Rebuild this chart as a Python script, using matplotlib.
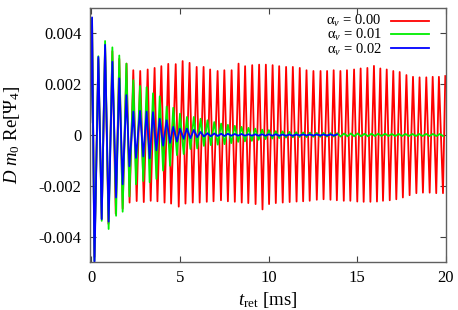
import numpy as np
import matplotlib
matplotlib.use("Agg")
import matplotlib.pyplot as plt

# ---------------- data ----------------
# times in ms, values in units of 1e-3 (scaled below)
scale = 1e-3
start_t = -0.05
start_v = 0.5

red_tmax = [0.056, 0.41, 0.79, 1.20, 1.59, 2.00, 2.38, 2.77, 3.19, 3.58, 3.96, 4.35, 4.77,
            5.16, 5.55, 5.95, 6.34, 6.71, 7.13, 7.51, 7.92, 8.31, 8.68, 9.08, 9.47, 9.85,
            10.23, 10.60, 10.99, 11.37, 11.76, 12.14, 12.53, 12.93, 13.30, 13.67, 14.05,
            14.42, 14.82, 15.19, 15.57, 15.94, 16.30, 16.66, 17.03, 17.39, 17.77, 18.14,
            18.51, 18.89, 19.25, 19.60, 19.96]
red_vmax = [4.5, 3.0, 3.5, 3.3, 3.0, 2.81, 2.55, 2.52, 2.58, 2.64, 2.71, 2.80, 2.79,
            2.91, 2.84, 2.68, 2.68, 2.58, 2.52, 2.55, 2.55, 2.81, 2.71, 2.75, 2.77, 2.77,
            2.75, 2.71, 2.68, 2.68, 2.64, 2.55, 2.52, 2.52, 2.52, 2.55, 2.52,
            2.55, 2.58, 2.62, 2.64, 2.72, 2.62, 2.58, 2.52, 2.48, 2.36, 2.29,
            2.27, 2.27, 2.29, 2.29, 2.32]
red_tmin = [0.19, 0.60, 0.98, 1.39, 1.78, 2.17, 2.57, 2.97, 3.36, 3.74, 4.14, 4.51, 4.94,
            5.32, 5.73, 6.12, 6.52, 6.90, 7.32, 7.71, 8.10, 8.49, 8.86, 9.27, 9.66, 10.03,
            10.41, 10.80, 11.19, 11.58, 11.95, 12.32, 12.72, 13.10, 13.49, 13.85, 14.24,
            14.61, 15.00, 15.36, 15.74, 16.11, 16.45, 16.83, 17.20, 17.57, 17.95, 18.33,
            18.70, 19.08, 19.45, 19.83]
red_vmin = [-4.8, -3.3, -3.5, -3.1, -2.9, -2.66, -2.60, -2.64, -2.59, -2.61, -2.66, -2.70, -2.82,
            -2.70, -2.66, -2.66, -2.63, -2.61, -2.57, -2.61, -2.63, -2.66, -2.68, -2.72, -2.93, -2.72,
            -2.68, -2.66, -2.64, -2.62, -2.61, -2.59, -2.55, -2.53, -2.55, -2.57, -2.59,
            -2.59, -2.62, -2.63, -2.63, -2.62, -2.59, -2.57, -2.53, -2.46, -2.37, -2.29,
            -2.27, -2.27, -2.29, -2.29]

green_tmax = [0.056, 0.41, 0.79, 1.20, 1.59, 1.99, 2.38, 2.76, 3.13, 3.49, 3.87, 4.26, 4.63,
              5.01, 5.40, 5.79, 6.17, 6.56, 6.94, 7.33, 7.71, 8.10, 8.48, 8.87, 9.25, 9.64,
              10.02, 10.41, 10.79, 11.18, 11.56, 11.95, 12.33, 12.72, 13.10, 13.49, 13.87,
              14.26, 14.64, 15.03, 15.41, 15.80, 16.18, 16.57, 16.95, 17.34, 17.72, 18.11,
              18.49, 18.88, 19.26, 19.65]
green_vmax = [4.6, 3.1, 3.7, 3.45, 3.13, 2.81, 2.16, 1.93, 1.88, 1.64, 1.52, 1.12, 1.07,
              0.84, 0.71, 0.71, 0.64, 0.58, 0.51, 0.45, 0.40, 0.36, 0.32, 0.28, 0.25, 0.21,
              0.19, 0.15, 0.14, 0.12, 0.11, 0.10, 0.09, 0.08, 0.08, 0.07, 0.07,
              0.06, 0.06, 0.06, 0.05, 0.05, 0.05, 0.05, 0.04, 0.04, 0.04, 0.04,
              0.04, 0.04, 0.04, 0.04]
green_tmin = [0.19, 0.60, 0.99, 1.41, 1.78, 2.16, 2.53, 2.94, 3.30, 3.68, 4.06, 4.45, 4.84,
              5.22, 5.60, 5.98, 6.36, 6.75, 7.14, 7.52, 7.90, 8.29, 8.67, 9.06, 9.44, 9.83,
              10.21, 10.60, 10.98, 11.37, 11.75, 12.14, 12.52, 12.91, 13.29, 13.68, 14.06,
              14.45, 14.83, 15.22, 15.60, 15.99, 16.37, 16.76, 17.14, 17.53, 17.91, 18.30,
              18.68, 19.07, 19.45, 19.84]
green_vmin = [-4.95, -3.38, -3.7, -3.18, -3.02, -2.42, -1.94, -1.81, -1.86, -1.73, -1.40, -1.21, -0.79,
              -0.75, -0.55, -0.53, -0.43, -0.40, -0.38, -0.36, -0.32, -0.27, -0.25, -0.23, -0.19, -0.16,
              -0.14, -0.12, -0.10, -0.09, -0.08, -0.08, -0.07, -0.07, -0.06, -0.06, -0.06,
              -0.05, -0.05, -0.05, -0.05, -0.04, -0.04, -0.04, -0.04, -0.04, -0.04, -0.04,
              -0.04, -0.04, -0.04, -0.04]

blue_tmax = [0.056, 0.41, 0.79, 1.20, 1.59, 1.99, 2.38, 2.76, 3.13, 3.49, 3.87, 4.26, 4.63,
             5.01, 5.40, 5.79, 6.17, 6.56, 6.94, 7.33, 7.71, 8.10, 8.48, 8.87, 9.25, 9.64,
             10.02, 10.41, 10.79, 11.18, 11.56, 11.95, 12.33, 12.72, 13.10, 13.49, 13.87]
blue_vmax = [4.63, 3.07, 3.55, 2.88, 2.23, 1.57, 0.92, 0.95, 0.92, 0.90, 0.64, 0.58, 0.32,
             0.25, 0.25, 0.20, 0.12, 0.07, 0.06, 0.05, 0.05, 0.04, 0.04, 0.03, 0.03, 0.03,
             0.03, 0.03, 0.02, 0.02, 0.02, 0.02, 0.02, 0.02, 0.02, 0.02, 0.02]
blue_tmin = [0.19, 0.60, 0.99, 1.41, 1.78, 2.16, 2.53, 2.94, 3.30, 3.68, 4.06, 4.45, 4.84,
             5.22, 5.60, 5.98, 6.36, 6.75, 7.14, 7.52, 7.90, 8.29, 8.67, 9.06, 9.44, 9.83,
             10.21, 10.60, 10.98, 11.37, 11.75, 12.14, 12.52, 12.91, 13.29, 13.68]
blue_vmin = [-5.2, -3.31, -3.41, -2.46, -1.94, -1.23, -0.90, -0.84, -0.92, -0.60, -0.42, -0.31, -0.26,
             -0.15, -0.13, -0.09, -0.06, -0.05, -0.04, -0.04, -0.03, -0.03, -0.03, -0.03, -0.03, -0.03,
             -0.03, -0.03, -0.03, -0.03, -0.02, -0.02, -0.02, -0.02, -0.02, -0.02]

labels = [r"α$_v$ = 0.00", r"α$_v$ = 0.01", r"α$_v$ = 0.02"]
colors = ["#ff0000", "#00ee00", "#0000ff"]
xticks = [0, 5, 10, 15, 20]
yticks = [-0.004, -0.002, 0, 0.002, 0.004]
yticklabels = ["-0.004", "-0.002", "0", "0.002", "0.004"]


def series(tmax, vmax, tmin, vmin):
    t = np.concatenate([[start_t], tmax, tmin])
    v = np.concatenate([[start_v], vmax, vmin]) * scale
    o = np.argsort(t, kind="stable")
    return t[o], v[o]


# ---------------- style ----------------
plt.rcParams["font.family"] = ["Liberation Serif", "DejaVu Serif"]
plt.rcParams["mathtext.fontset"] = "custom"
plt.rcParams["mathtext.rm"] = "Liberation Serif"
plt.rcParams["mathtext.it"] = "Liberation Serif:italic"
plt.rcParams["font.size"] = 11

fig = plt.figure(figsize=(4.58, 3.10), dpi=100)
ax = fig.add_axes([90 / 458, 1 - 262 / 310, 356 / 458, 254 / 310])

data = [(red_tmax, red_vmax, red_tmin, red_vmin),
        (green_tmax, green_vmax, green_tmin, green_vmin),
        (blue_tmax, blue_vmax, blue_tmin, blue_vmin)]
for (d, c) in zip(data, colors):
    t, v = series(*d)
    ax.plot(t, v, color=c, lw=1.3, solid_joinstyle="round")

ax.set_xlim(-0.06, 20)
ax.set_ylim(-0.005, 0.005)
ax.set_xticks(xticks)
ax.set_yticks(yticks)
ax.set_yticklabels(yticklabels)
ax.tick_params(direction="in", top=True, right=True, length=4, width=0.8,
               color="#404040")
ax.tick_params(axis="y", pad=6, labelsize=12)
ax.tick_params(axis="x", pad=6, labelsize=12)
for s in ax.spines.values():
    s.set_color("#606060")
    s.set_linewidth(1.0)

ax.set_xlabel(r"$t_{\mathrm{ret}}$ [ms]", fontsize=13.5)
ax.xaxis.set_label_coords(0.5, -0.11)
ax.set_ylabel(r"$D$ $m_0$ Re[Ψ$_4$]", fontsize=13.5, labelpad=12)

# legend (manual, gnuplot style: text then sample)
ax.text(0.819, 0.893, "\n".join(labels), transform=ax.transAxes, ha="right",
        va="center", multialignment="right", fontsize=10.5, linespacing=0.86)
rows_y = [0.950, 0.896, 0.841]
for c, yy in zip(colors, rows_y):
    ax.plot([0.8455, 0.952], [yy, yy], transform=ax.transAxes, color=c, lw=1.3)

fig.savefig("out.png", dpi=100)
